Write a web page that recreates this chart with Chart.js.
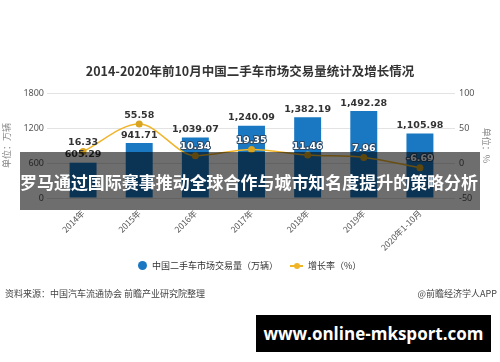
<!DOCTYPE html>
<html><head><meta charset="utf-8">
<script src="https://cdn.jsdelivr.net/npm/chart.js@4.4.0/dist/chart.umd.min.js"></script>
<style>
html,body{margin:0;padding:0;background:#fff;}
#wrap{position:relative;width:500px;height:362px;overflow:hidden;font-family:"Noto Sans CJK SC","Noto Sans",sans-serif;}
#c{position:absolute;left:0;top:0;}
.abs{position:absolute;white-space:nowrap;}
#title{left:0;width:500px;top:61px;text-align:center;font-size:12.5px;font-weight:bold;color:#333;}
#legend{top:259px;left:138px;font-size:9px;color:#333;}
#src{left:5px;top:287px;font-size:9px;color:#444;}
#app{right:3px;top:287px;font-size:9px;color:#444;}
#band{left:20px;top:152px;width:460px;height:58px;background:rgba(0,0,0,0.57);}
#bandtext{left:20px;top:171px;font-family:"Noto Sans CJK SC",sans-serif;font-size:17.6px;font-weight:bold;color:#fff;line-height:22px;transform-origin:0 50%;}
#wm{left:256px;top:315px;width:235px;height:37px;background:#000;color:#fff;font-family:"Open Sans",sans-serif;font-weight:bold;font-size:17px;line-height:37px;text-align:center;}
</style></head>
<body><div id="wrap">
<canvas id="c" width="500" height="362"></canvas>
<div class="abs" id="title">2014-2020年前10月中国二手车市场交易量统计及增长情况</div>
<div class="abs" id="legend"><span style="display:inline-block;width:9px;height:9px;border-radius:50%;background:#1a78c2;vertical-align:-1px;margin-right:5px;"></span>中国二手车市场交易量（万辆）<span style="display:inline-block;position:relative;width:13px;height:9px;margin-left:12px;margin-right:5px;vertical-align:-1px;"><span style="position:absolute;left:0;top:4px;width:13px;height:1.5px;background:#f0b429;"></span><span style="position:absolute;left:3.5px;top:1.5px;width:6px;height:6px;border-radius:50%;background:#f0b429;"></span></span>增长率（%）</div>
<div class="abs" id="src">资料来源：中国汽车流通协会 前瞻产业研究院整理</div>
<div class="abs" id="app">@前瞻经济学人APP</div>
<div class="abs" id="band"></div>
<div class="abs" id="bandtext">罗马通过国际赛事推动全球合作与城市知名度提升的策略分析</div>
<div class="abs" id="wm">www.online-mksport.com</div>
</div>
<script>
const categories = ["2014年","2015年","2016年","2017年","2018年","2019年","2020年1-10月"];
const volumeValues = [605.29, 941.71, 1039.07, 1240.09, 1382.19, 1492.28, 1105.98];
const growthValues = [16.33, 55.58, 10.34, 19.35, 11.46, 7.96, -6.69];
const leftTicks = [0, 600, 1200, 1800];
const rightTicks = [-50, 0, 50, 100];

// fit the band text to 458px wide
(function(){
  const bt = document.getElementById('bandtext');
  const w = bt.getBoundingClientRect().width;
  if (w > 0) bt.style.transform = 'scaleX(' + (458 / w) + ')';
})();

function fmt(v){ return v.toLocaleString('en-US',{minimumFractionDigits:2,maximumFractionDigits:2}); }

const labelPlugin = {
  id:'labels',
  afterDatasetsDraw(chart){
    const ctx = chart.ctx;
    ctx.save();
    ctx.textAlign='center';
    ctx.textBaseline='bottom';
    const barMeta = chart.getDatasetMeta(0);
    ctx.font = 'bold 9.5px "DejaVu Sans", sans-serif';
    barMeta.data.forEach((el,i)=>{
      ctx.fillStyle='#333';
      ctx.fillText(fmt(volumeValues[i]), el.x, el.y-3);
    });
    const lineMeta = chart.getDatasetMeta(1);
    lineMeta.data.forEach((el,i)=>{
      const t = fmt(growthValues[i]);
      const barTop = barMeta.data[i].y;
      const ly = el.y-4;
      if (ly - 9 < barTop) {
        ctx.fillStyle='#333';
        ctx.fillText(t, el.x, ly);
      } else {
        ctx.lineWidth = 2; ctx.strokeStyle='#2a4a6a'; ctx.lineJoin='round';
        ctx.strokeText(t, el.x, ly);
        ctx.fillStyle='#fff';
        ctx.fillText(t, el.x, ly);
      }
    });
    ctx.restore();
  }
};

new Chart(document.getElementById('c'), {
  data:{
    labels: categories,
    datasets:[
      {type:'bar', label:'中国二手车市场交易量（万辆）', data: volumeValues, backgroundColor:'#1a78c2', yAxisID:'y', barPercentage:0.48, categoryPercentage:1, order:2},
      {type:'line', label:'增长率（%）', data: growthValues, borderColor:'#f0b429', backgroundColor:'#f0b429', borderWidth:1.5, pointRadius:3.5, pointBackgroundColor:'#d9a520', pointBorderWidth:0, tension:0.4, cubicInterpolationMode:'monotone', yAxisID:'y1', order:1}
    ]
  },
  options:{
    responsive:false, animation:false,
    layout:{padding:{top:93,left:0,right:0,bottom:0}},
    plugins:{legend:{display:false}, title:{display:false}, tooltip:{enabled:false}},
    scales:{
      x:{
        offset:true,
        grid:{display:false},
        border:{display:false},
        ticks:{color:'#555', font:{size:8.5, family:'"Noto Sans CJK SC"'}, minRotation:45, maxRotation:45, padding:2},
        afterFit(s){ s.height = 164; }
      },
      y:{
        position:'left', min:0, max:1800,
        afterBuildTicks(s){ s.ticks = leftTicks.map(v=>({value:v})); },
        grid:{color:'#e3e3e3', tickLength:8, lineWidth:1},
        border:{display:false},
        ticks:{color:'#555', font:{size:9, family:'"Noto Sans"'}, padding:3, callback:(v)=>String(v)},
        title:{display:true, text:'单位：万辆', color:'#888', font:{size:9, family:'"Noto Sans CJK SC"'}, padding:{top:1,bottom:2}},
        afterFit(s){ s.width = 55; }
      },
      y1:{
        position:'right', min:-50, max:100,
        afterBuildTicks(s){ s.ticks = rightTicks.map(v=>({value:v})); },
        grid:{drawOnChartArea:false, color:'#e3e3e3', tickLength:7},
        border:{display:false},
        ticks:{color:'#555', font:{size:9, family:'"Noto Sans"'}, padding:4, callback:(v)=>String(v)},
        title:{display:true, text:'单位：%', color:'#888', font:{size:9, family:'"Noto Sans CJK SC"'}, padding:{top:8,bottom:2}},
        afterFit(s){ s.width = 52; }
      }
    }
  },
  plugins:[labelPlugin]
});
</script>
</body></html>
